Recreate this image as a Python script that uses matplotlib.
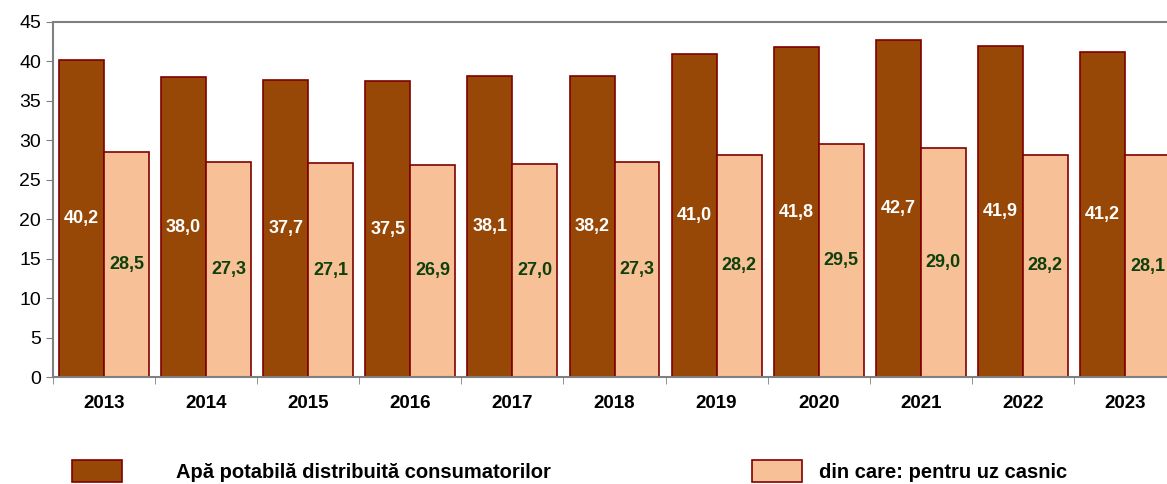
import numpy as np
import matplotlib.pyplot as plt

plt.rcParams['font.family'] = ['Liberation Sans', 'DejaVu Sans']

years = ['2013', '2014', '2015', '2016', '2017', '2018', '2019', '2020', '2021', '2022', '2023']
total = [40.2, 38.0, 37.7, 37.5, 38.1, 38.2, 41.0, 41.8, 42.7, 41.9, 41.2]
household = [28.5, 27.3, 27.1, 26.9, 27.0, 27.3, 28.2, 29.5, 29.0, 28.2, 28.1]

dark = '#974706'
light = '#F7C096'
edge = '#800000'

fig = plt.figure(figsize=(11.67, 4.84), dpi=100)
ax = fig.add_axes([53 / 1167, 107 / 484, 1123 / 1167, 355 / 484])

x = np.arange(len(years))
w = 0.44
b1 = ax.bar(x - w / 2, total, w, color=dark, edgecolor=edge, linewidth=1.2,
            label='Apă potabilă distribuită consumatorilor')
b2 = ax.bar(x + w / 2, household, w, color=light, edgecolor=edge, linewidth=1.2,
            label='din care: pentru uz casnic')

# value labels in the middle of each bar
for xi, v in zip(x, total):
    ax.text(xi - w / 2, v / 2, f'{v:.1f}'.replace('.', ','), ha='center', va='center',
            color='white', fontsize=13, fontweight='bold')
for xi, v in zip(x, household):
    ax.text(xi + w / 2, v / 2, f'{v:.1f}'.replace('.', ','), ha='center', va='center',
            color='#0F3F0A', fontsize=13, fontweight='bold')

ax.set_xlim(-0.5, len(years) - 0.5)
ax.set_ylim(0, 45)
ax.set_yticks(range(0, 46, 5))
ax.tick_params(axis='y', labelsize=14, length=5, color='#808080')
ax.set_xticks(x)
ax.set_xticklabels(years, fontsize=13.5, fontweight='bold')
ax.set_xticks(np.arange(-0.5, len(years), 1), minor=True)
ax.tick_params(axis='x', which='major', length=0, pad=13)
ax.tick_params(axis='x', which='minor', length=5, color='#808080')

for s in ['top', 'left', 'right', 'bottom']:
    ax.spines[s].set_color('#808080')
    ax.spines[s].set_linewidth(1.5)

leg_kw = dict(frameon=False, handlelength=2.5, handleheight=1.3,
              borderpad=0, borderaxespad=0, loc='center left',
              prop={'weight': 'bold', 'size': 14.5})
fig.legend(handles=[b1], bbox_to_anchor=(72 / 1167, 1 - 471 / 484),
           handletextpad=2.65, **leg_kw)
fig.legend(handles=[b2], bbox_to_anchor=(752 / 1167, 1 - 471 / 484),
           handletextpad=0.85, **leg_kw)

fig.savefig('out.png', dpi=100)
